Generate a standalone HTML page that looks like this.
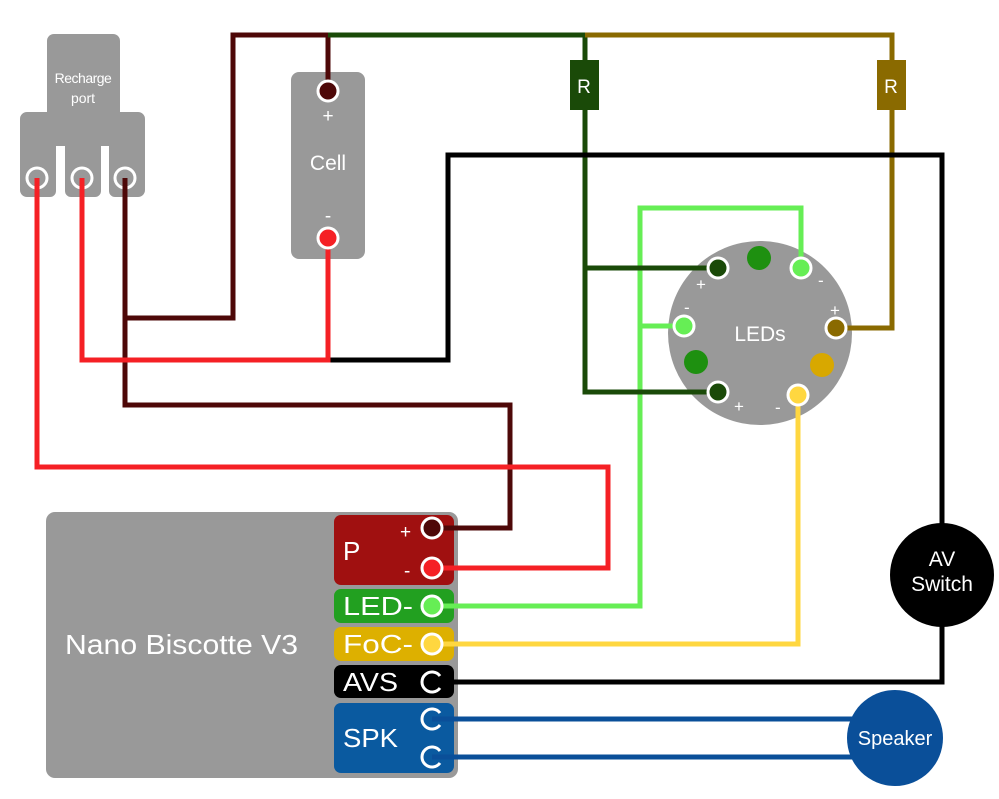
<!DOCTYPE html>
<html><head><meta charset="utf-8"><style>body{margin:0;background:#fff}svg{display:block}text{font-family:"Liberation Sans",sans-serif;fill:#fff}</style></head><body>
<svg width="999" height="799" viewBox="0 0 999 799" xmlns="http://www.w3.org/2000/svg">
<rect x="47" y="34" width="73" height="90" rx="7" fill="#999"/>
<path d="M27 112 H138 a7 7 0 0 1 7 7 V190 a7 7 0 0 1 -7 7 H115 a6 6 0 0 1 -6 -6 V146 H101 V191 a6 6 0 0 1 -6 6 H71 a6 6 0 0 1 -6 -6 V146 H56 V191 a6 6 0 0 1 -6 6 H27 a7 7 0 0 1 -7 -7 V119 a7 7 0 0 1 7 -7Z" fill="#999"/>
<text x="83" y="83" font-size="14" text-anchor="middle" letter-spacing="-0.5">Recharge</text>
<text x="83" y="103" font-size="14" text-anchor="middle">port</text>
<rect x="291" y="72" width="74" height="187" rx="8" fill="#999"/>
<text x="328" y="122" font-size="19" text-anchor="middle">+</text>
<text x="328" y="170" font-size="21" text-anchor="middle">Cell</text>
<text x="328" y="222" font-size="19" text-anchor="middle">-</text>
<circle cx="760" cy="333" r="92" fill="#999"/>
<text x="760" y="341" font-size="21" text-anchor="middle">LEDs</text>
<rect x="46" y="512" width="412" height="266" rx="9" fill="#999"/>
<text x="65" y="654" font-size="28" textLength="233" lengthAdjust="spacingAndGlyphs">Nano Biscotte V3</text>
<rect x="334" y="515" width="120" height="70" rx="7" fill="#a01010"/>
<rect x="334" y="589" width="120" height="34" rx="7" fill="#22a020"/>
<rect x="334" y="627" width="120" height="34" rx="7" fill="#ddb000"/>
<rect x="334" y="665" width="120" height="33" rx="7" fill="#000"/>
<rect x="334" y="703" width="120" height="70" rx="7" fill="#0a5aa0"/>
<text x="343" y="560" font-size="26">P</text>
<text x="400" y="538" font-size="19">+</text>
<text x="404" y="577" font-size="19">-</text>
<text x="343" y="615" font-size="26" textLength="70" lengthAdjust="spacingAndGlyphs">LED-</text>
<text x="343" y="653" font-size="26" textLength="70" lengthAdjust="spacingAndGlyphs">FoC-</text>
<text x="343" y="691" font-size="26" textLength="55" lengthAdjust="spacingAndGlyphs">AVS</text>
<text x="343" y="747" font-size="26" textLength="55" lengthAdjust="spacingAndGlyphs">SPK</text>
<g fill="none" stroke-width="5" stroke-linejoin="miter">
<path d="M328 91 V35 H233 V318 H127" stroke="#4e0808"/>
<path d="M125 178 V405 H510 V528 H432" stroke="#4e0808"/>
<path d="M328 35 H585 V392 H718 M585 268 H718" stroke="#1a4a08"/>
<path d="M585 35 H892 V328 H836" stroke="#8a6a00"/>
<path d="M328 360 H448 V155 H942 V682 H432" stroke="#000"/>
<path d="M37 178 V467 H608 V568 H432" stroke="#f52025"/>
<path d="M82 178 V360 H328 V238" stroke="#f52025"/>
<path d="M801 268 V208 H640 V606 H432 M640 326 H684" stroke="#66ee55"/>
<path d="M798 395 V644 H432" stroke="#ffd740"/>
<path d="M432 719 H900 M432 757 H900" stroke="#0a4f99"/>
</g>
<path d="M588 268 H718 M588 392 H718" stroke="#1a4a08" stroke-width="5"/>
<rect x="570" y="60" width="29" height="50" fill="#1a4a08"/><text x="584" y="93" font-size="19" text-anchor="middle">R</text>
<rect x="877" y="60" width="29" height="50" fill="#8a6a00"/><text x="891" y="93" font-size="19" text-anchor="middle">R</text>
<circle cx="942" cy="575" r="52" fill="#000"/>
<text x="942" y="566" font-size="21" text-anchor="middle">AV</text>
<text x="942" y="591" font-size="21" text-anchor="middle">Switch</text>
<circle cx="895" cy="738" r="48" fill="#0a4f99"/>
<text x="895" y="745" font-size="20" text-anchor="middle">Speaker</text>
<g stroke="#fff" stroke-width="3">
<circle cx="37" cy="178" r="10" fill="#999"/>
<circle cx="82" cy="178" r="10" fill="#999"/>
<circle cx="125" cy="178" r="10" fill="#999"/>
<circle cx="328" cy="91" r="10" fill="#4e0808"/>
<circle cx="328" cy="238" r="10" fill="#f52025"/>
<circle cx="718" cy="268" r="10" fill="#1a4a08"/>
<circle cx="718" cy="392" r="10" fill="#1a4a08"/>
<circle cx="801" cy="268" r="10" fill="#66ee55"/>
<circle cx="684" cy="326" r="10" fill="#66ee55"/>
<circle cx="836" cy="328" r="10" fill="#8a6a00"/>
<circle cx="798" cy="395" r="10" fill="#ffd740"/>
<circle cx="432" cy="528" r="10" fill="#4e0808"/>
<circle cx="432" cy="568" r="10" fill="#f52025"/>
<circle cx="432" cy="606" r="10" fill="#66ee55"/>
<circle cx="432" cy="644" r="10" fill="#ffd740"/>
</g>
<path d="M37 178 V200 M82 178 V200 M125 178 V200" stroke="#f52025" stroke-width="5"/>
<path d="M125 178 V200" stroke="#4e0808" stroke-width="5"/>
<g stroke="#fff" stroke-width="3" fill="none">
<path d="M440 676 A10 10 0 1 0 440 688"/>
<path d="M440 713 A10 10 0 1 0 440 725"/>
<path d="M440 751 A10 10 0 1 0 440 763"/>
</g>
<circle cx="759" cy="258" r="12" fill="#1e9010"/>
<circle cx="696" cy="362" r="12" fill="#1e9010"/>
<circle cx="822" cy="365" r="12" fill="#d8a800"/>
<g font-size="17">
<text x="696" y="290">+</text><text x="734" y="412">+</text>
<text x="818" y="286">-</text><text x="684" y="313">-</text>
<text x="830" y="316">+</text><text x="775" y="413">-</text>
</g>
</svg>
</body></html>
